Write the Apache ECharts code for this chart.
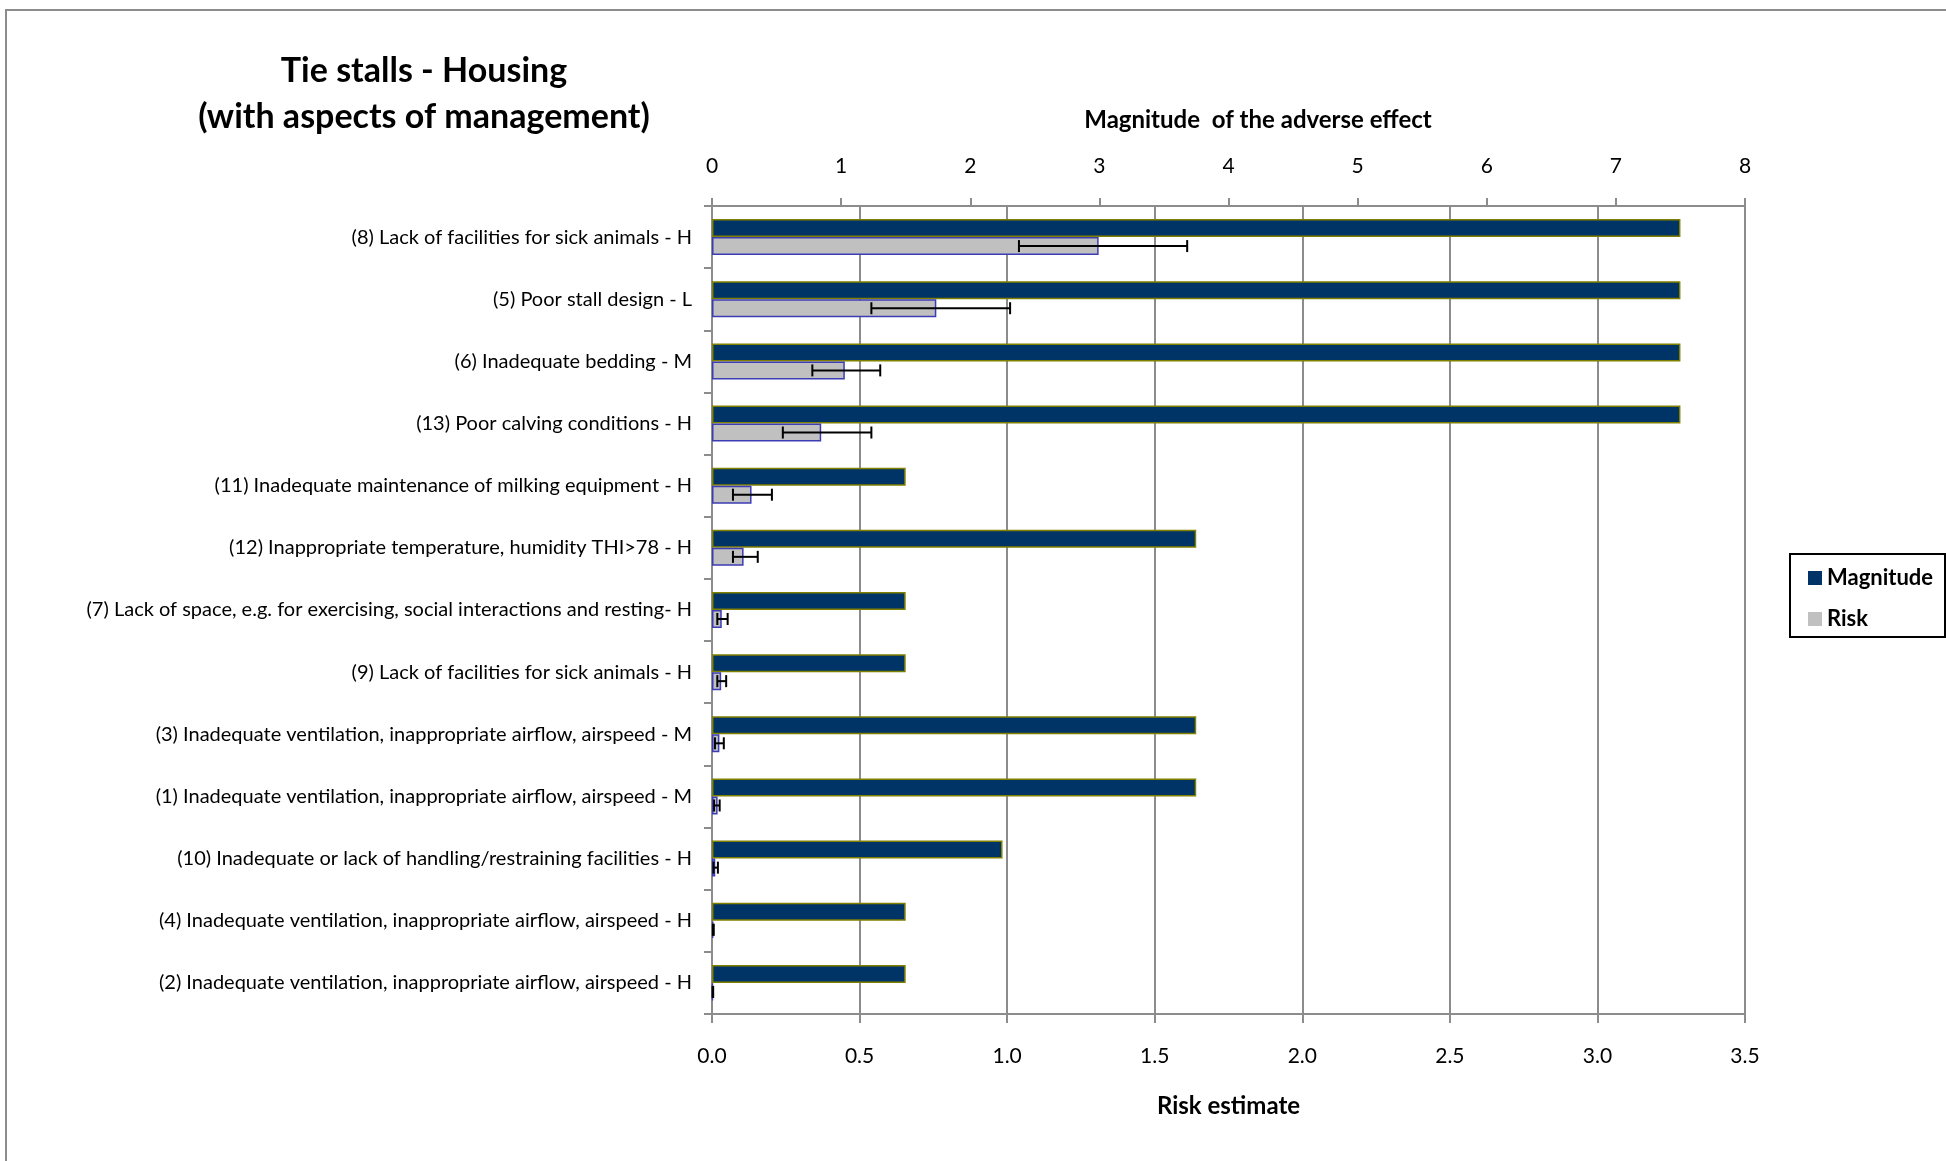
<!DOCTYPE html>
<html>
<head>
<meta charset="utf-8">
<script src="https://cdn.jsdelivr.net/npm/echarts@6/dist/echarts.min.js"></script>
<style>
html,body{margin:0;padding:0;background:#fff;}
#chart{width:1946px;height:1161px;}
</style>
</head>
<body>
<div id="chart"></div>
<script>
var categories = [
  '(8) Lack of facilities for sick animals - H',
  '(5) Poor stall design - L',
  '(6) Inadequate bedding - M',
  '(13) Poor calving conditions - H',
  '(11) Inadequate maintenance of milking equipment - H',
  '(12) Inappropriate temperature, humidity THI>78 - H',
  '(7) Lack of space, e.g. for exercising, social interactions and resting- H',
  '(9) Lack of facilities for sick animals - H',
  '(3) Inadequate ventilation, inappropriate airflow, airspeed - M',
  '(1) Inadequate ventilation, inappropriate airflow, airspeed - M',
  '(10) Inadequate or lack of handling/restraining facilities - H',
  '(4) Inadequate ventilation, inappropriate airflow, airspeed - H',
  '(2) Inadequate ventilation, inappropriate airflow, airspeed - H'
];
var magnitude = [7.5, 7.5, 7.5, 7.5, 1.5, 3.75, 1.5, 1.5, 3.75, 3.75, 2.25, 1.5, 1.5];
var risk      = [1.31, 0.76, 0.45, 0.37, 0.134, 0.107, 0.033, 0.031, 0.025, 0.019, 0.011, 0.005, 0.003];
var riskLow   = [1.04, 0.54, 0.34, 0.24, 0.071, 0.071, 0.018, 0.018, 0.010, 0.007, 0.005, 0.003, 0.002];
var riskHigh  = [1.61, 1.01, 0.57, 0.54, 0.203, 0.155, 0.053, 0.048, 0.040, 0.026, 0.020, 0.006, 0.004];
var magnitudeTicks = [0, 8, 1];
var riskTicks = [0, 3.5, 0.5];

var FONT = 'Lato, "Open Sans", sans-serif';
var BAR_W = 18;

var chart = echarts.init(document.getElementById('chart'), null, {renderer: 'canvas'});
var errData = riskLow.map(function (lo, i) { return [lo, riskHigh[i], i]; });

var option = {
  backgroundColor: '#fff',
  animation: false,
  textStyle: {fontFamily: FONT},
  title: {
    text: 'Tie stalls - Housing\n(with aspects of management)',
    left: 424, top: 48, padding: 0, textAlign: 'center',
    textStyle: {fontFamily: FONT, fontSize: 34, fontWeight: 'bold', color: '#000', lineHeight: 46}
  },
  legend: {
    orient: 'vertical', left: 1803, top: 562,
    itemWidth: 14, itemHeight: 14, itemGap: 19, icon: 'rect',
    itemStyle: {borderWidth: 0},
    textStyle: {fontFamily: FONT, fontSize: 22, fontWeight: 'bold', color: '#000'},
    data: ['Magnitude', 'Risk']
  },
  graphic: [
    {type: 'rect', shape: {x: 6, y: 10, width: 2100, height: 1300}, style: {fill: 'none', stroke: '#8c8c8c', lineWidth: 2}, silent: true},
    {type: 'rect', shape: {x: 1790, y: 554, width: 155, height: 83}, style: {fill: 'none', stroke: '#000', lineWidth: 2}, silent: true, z: -1}
  ],
  grid: {left: 712, right: 201, top: 206, bottom: 147, containLabel: false},
  xAxis: [
    {
      type: 'value', position: 'top', min: magnitudeTicks[0], max: magnitudeTicks[1], interval: magnitudeTicks[2],
      name: 'Magnitude  of the adverse effect', nameLocation: 'middle', nameGap: 74,
      nameTextStyle: {fontFamily: FONT, fontSize: 24, fontWeight: 'bold', color: '#000', padding: [0, 0, 0, 59]},
      axisLine: {show: true, lineStyle: {color: '#8c8c8c', width: 2}},
      axisTick: {show: true, length: 8, lineStyle: {color: '#8c8c8c', width: 2}},
      axisLabel: {margin: 29, fontFamily: FONT, fontSize: 21, color: '#000'},
      splitLine: {show: false}
    },
    {
      type: 'value', position: 'bottom', min: riskTicks[0], max: riskTicks[1], interval: riskTicks[2],
      name: 'Risk estimate', nameLocation: 'middle', nameGap: 80,
      nameTextStyle: {fontFamily: FONT, fontSize: 24, fontWeight: 'bold', color: '#000'},
      axisLine: {show: true, lineStyle: {color: '#8c8c8c', width: 2}},
      axisTick: {show: true, length: 9, lineStyle: {color: '#8c8c8c', width: 2}},
      axisLabel: {margin: 32, fontFamily: FONT, fontSize: 21, color: '#000', formatter: function (v) { return v.toFixed(1); }},
      splitLine: {show: true, lineStyle: {color: '#8c8c8c', width: 2}}
    }
  ],
  yAxis: {
    type: 'category', inverse: true, data: categories,
    axisLine: {show: true, lineStyle: {color: '#8c8c8c', width: 2}},
    axisTick: {show: true, length: 8, lineStyle: {color: '#8c8c8c', width: 2}},
    axisLabel: {margin: 20, fontFamily: FONT, fontSize: 20, color: '#000'}
  },
  series: [
    {
      name: 'Magnitude', type: 'bar', xAxisIndex: 0, yAxisIndex: 0,
      data: magnitude, barWidth: BAR_W, barGap: '0%',
      itemStyle: {color: '#003366', borderColor: '#808000', borderWidth: 1.5}
    },
    {
      name: 'Risk', type: 'bar', xAxisIndex: 1, yAxisIndex: 0,
      data: risk, barWidth: BAR_W, barGap: '0%',
      itemStyle: {color: '#c0c0c0', borderColor: '#3c3cb4', borderWidth: 1.5}
    },
    {
      name: 'Risk error', type: 'custom', xAxisIndex: 1, yAxisIndex: 0,
      data: errData, encode: {x: [0, 1], y: 2}, z: 5,
      renderItem: function (params, api) {
        var lo = api.coord([api.value(0), api.value(2)]);
        var hi = api.coord([api.value(1), api.value(2)]);
        var y = lo[1] + BAR_W / 2;
        var h = 6;
        var st = {stroke: '#000', lineWidth: 2};
        return {
          type: 'group',
          children: [
            {type: 'line', shape: {x1: lo[0], y1: y, x2: hi[0], y2: y}, style: st},
            {type: 'line', shape: {x1: lo[0], y1: y - h, x2: lo[0], y2: y + h}, style: st},
            {type: 'line', shape: {x1: hi[0], y1: y - h, x2: hi[0], y2: y + h}, style: st}
          ]
        };
      }
    }
  ]
};
chart.setOption(option);
</script>
</body>
</html>
